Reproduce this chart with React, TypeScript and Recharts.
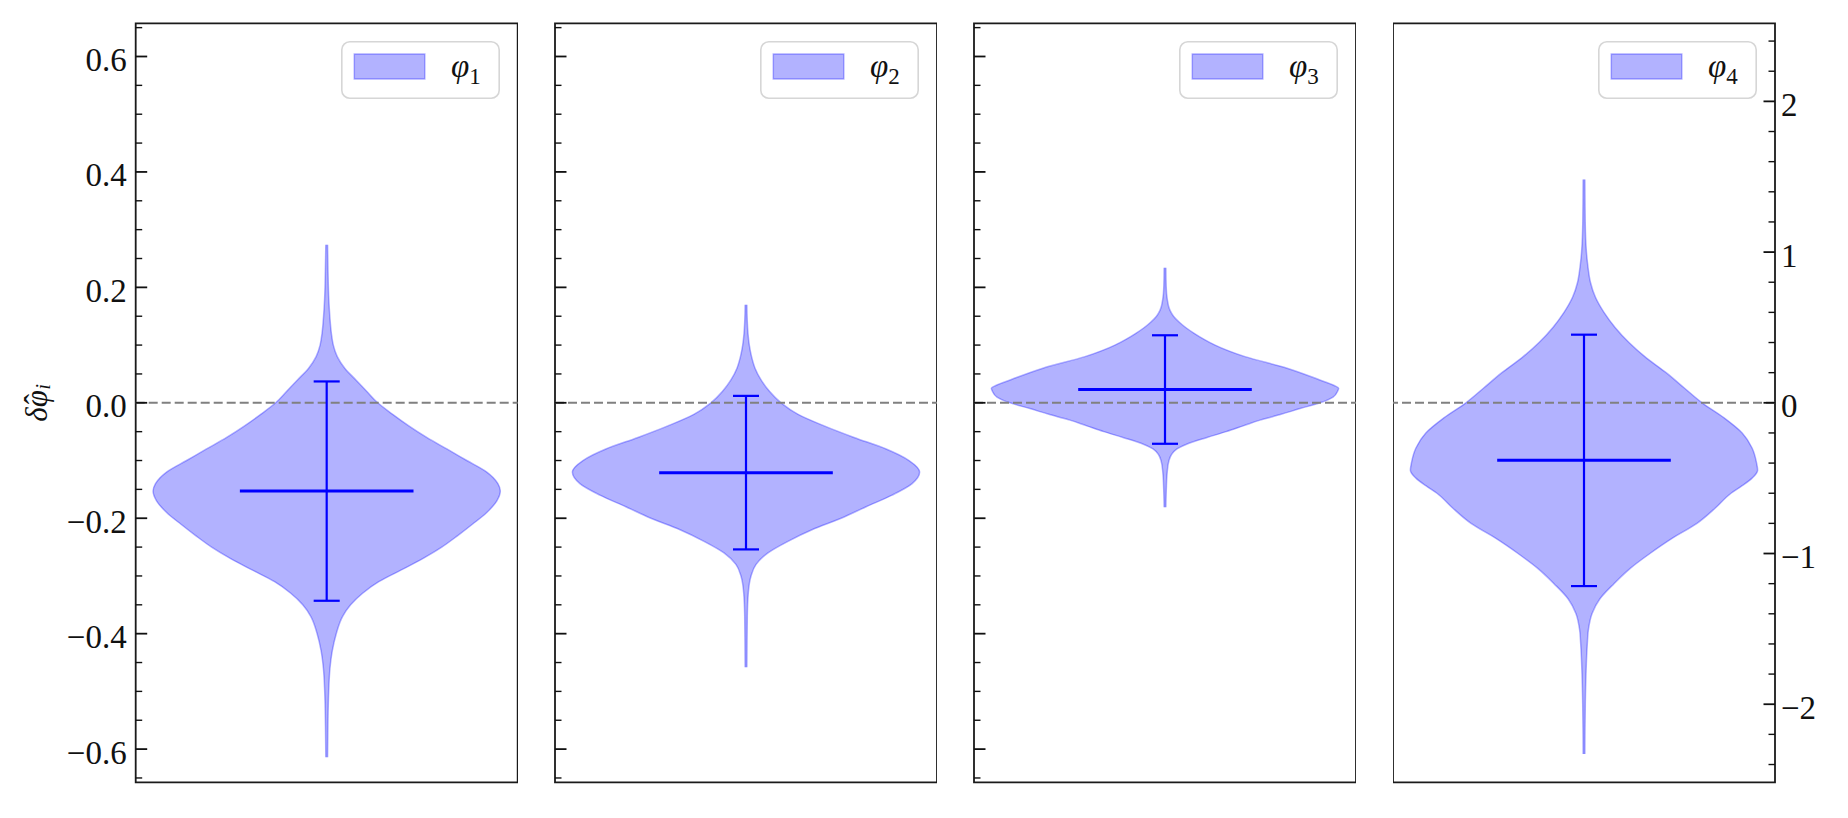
import React from 'react';
import { ComposedChart, Area, XAxis, YAxis, ReferenceLine, ReferenceArea, Legend } from 'recharts';

// ---------------- data ----------------
const seriesNames = ['φ1', 'φ2', 'φ3', 'φ4'];
const means = [-0.153, -0.121, 0.023, -0.382];
const stds = [0.19, 0.133, 0.094, 0.834];

// violin profiles: value along the y axis, and relative density (half-width, max = 1)
const v1Values = [0.274, 0.23, 0.18, 0.15, 0.12, 0.1, 0.08, 0.06, 0.04, 0.02, 0.0, -0.02, -0.04, -0.06, -0.08, -0.1, -0.12, -0.14, -0.153, -0.17, -0.19, -0.21, -0.23, -0.25, -0.27, -0.29, -0.31, -0.33, -0.35, -0.37, -0.4, -0.43, -0.46, -0.5, -0.56, -0.614];
const v1Density = [0.005, 0.0075, 0.012, 0.018, 0.027, 0.038, 0.061, 0.104, 0.167, 0.23, 0.294, 0.38, 0.473, 0.576, 0.692, 0.807, 0.922, 0.986, 1.0, 0.98, 0.922, 0.841, 0.755, 0.663, 0.553, 0.427, 0.3, 0.207, 0.138, 0.092, 0.055, 0.032, 0.019, 0.0115, 0.007, 0.005];

const v2Values = [0.17, 0.14, 0.12, 0.1, 0.08, 0.06, 0.04, 0.02, 0.0, -0.02, -0.04, -0.06, -0.08, -0.1, -0.12, -0.14, -0.16, -0.18, -0.2, -0.22, -0.24, -0.26, -0.28, -0.3, -0.33, -0.37, -0.458];
const v2Density = [0.005, 0.0075, 0.0115, 0.019, 0.032, 0.052, 0.086, 0.135, 0.202, 0.3, 0.45, 0.622, 0.807, 0.939, 1.0, 0.957, 0.841, 0.692, 0.548, 0.38, 0.242, 0.127, 0.058, 0.029, 0.013, 0.0075, 0.005];

const v3Values = [0.234, 0.2, 0.18, 0.16, 0.15, 0.14, 0.13, 0.12, 0.11, 0.1, 0.08, 0.06, 0.04, 0.03, 0.025, 0.02, 0.01, 0.0, -0.01, -0.02, -0.03, -0.04, -0.05, -0.06, -0.07, -0.08, -0.09, -0.1, -0.12, -0.15, -0.181];
const v3Density = [0.005, 0.007, 0.0127, 0.029, 0.049, 0.081, 0.121, 0.17, 0.225, 0.288, 0.461, 0.703, 0.888, 0.974, 1.0, 0.994, 0.968, 0.893, 0.778, 0.669, 0.548, 0.45, 0.352, 0.242, 0.138, 0.069, 0.037, 0.023, 0.0127, 0.0075, 0.005];

const v4Values = [1.482, 1.2, 1.0, 0.9, 0.8, 0.7, 0.6, 0.5, 0.4, 0.3, 0.2, 0.1, 0.0, -0.1, -0.2, -0.3, -0.4, -0.447, -0.5, -0.55, -0.6, -0.7, -0.8, -0.9, -1.0, -1.1, -1.2, -1.3, -1.4, -1.5, -1.6, -1.8, -2.0, -2.331];
const v4Density = [0.005, 0.007, 0.014, 0.023, 0.037, 0.066, 0.115, 0.179, 0.259, 0.357, 0.473, 0.576, 0.68, 0.807, 0.911, 0.968, 0.994, 1.0, 0.968, 0.911, 0.847, 0.755, 0.651, 0.507, 0.38, 0.265, 0.173, 0.092, 0.046, 0.026, 0.019, 0.0115, 0.0075, 0.005];

const leftMajorTicks = [-0.6, -0.4, -0.2, 0, 0.2, 0.4, 0.6];
const leftTickLabels = ['−0.6', '−0.4', '−0.2', '0.0', '0.2', '0.4', '0.6'];
const leftMinorTicks = [-0.65, -0.55, -0.5, -0.45, -0.35, -0.3, -0.25, -0.15, -0.1, -0.05, 0.05, 0.1, 0.15, 0.25, 0.3, 0.35, 0.45, 0.5, 0.55, 0.65];
const rightMajorTicks = [-2, -1, 0, 1, 2];
const rightTickLabels = ['−2', '−1', '0', '1', '2'];
const rightMinorTicks = [-2.4, -2.2, -1.8, -1.6, -1.4, -1.2, -0.8, -0.6, -0.4, -0.2, 0.2, 0.4, 0.6, 0.8, 1.2, 1.4, 1.6, 1.8, 2.2, 2.4];

const yTitleMain = 'δφ';
const yTitleHat = 'ˆ';
const yTitleSub = 'i';

// ---------------- config ----------------
const LEFT_DOMAIN: [number, number] = [-0.6575, 0.6575];
const RIGHT_DOMAIN: [number, number] = [-2.518, 2.518];
const X_DOMAIN: [number, number] = [-1.1, 1.1];
const MEAN_HALF = 0.5;
const CAP_HALF = 0.075;
const BLUE = '#0000ff';
const FONT = '"Liberation Serif", "Times New Roman", serif';
const PLOT_W = 382;
const PLOT_TOP = 23.3;
const PLOT_BOTTOM = 782.3;
const H = 818;

type Side = 'left' | 'right';

function makeTick(majors: number[], labels: string[], side: Side, showLabels: boolean) {
  return (props: any) => {
    const { x, y, payload } = props;
    const v = payload.value;
    const mi = majors.findIndex((m) => Math.abs(m - v) < 1e-9);
    const major = mi >= 0;
    const len = major ? 11.5 : 6.5;
    const dir = side === 'left' ? 1 : -1;
    return (
      <g>
        <line x1={x} y1={y} x2={x + dir * len} y2={y} stroke="#111" strokeWidth={major ? 1.8 : 1.4} />
        {major && showLabels ? (
          <text
            x={side === 'left' ? x - 9 : x + 6}
            y={y + 3.5}
            textAnchor={side === 'left' ? 'end' : 'start'}
            dominantBaseline="central"
            fontFamily={FONT}
            fontSize={33}
            fill="#111"
          >
            {labels[mi]}
          </text>
        ) : null}
      </g>
    );
  };
}

const AxisTitle = (props: any) => {
  const vb = props.viewBox || { x: 0, y: 0, width: 0, height: 0 };
  const cx = vb.x + 36;
  const cy = vb.y + vb.height / 2;
  return (
    <text
      x={cx}
      y={cy}
      transform={`rotate(-90, ${cx}, ${cy})`}
      textAnchor="middle"
      dominantBaseline="central"
      fontFamily={FONT}
      fontSize={31}
      fill="#111"
    >
      <tspan fontStyle="italic">{yTitleMain}</tspan>
      <tspan dx={-14} dy={-1}>{yTitleHat}</tspan>
      <tspan fontStyle="italic" fontSize={21} dx={4} dy={8}>{yTitleSub}</tspan>
    </text>
  );
};

const LegendBox = (props: any) => {
  const item = props.payload && props.payload[0];
  const name = item ? String(item.value) : '';
  return (
    <svg width={159} height={58} style={{ display: 'block', overflow: 'visible' }}>
      <rect x={0.8} y={0.8} width={157.4} height={56.4} rx={8} ry={8} fill="#ffffff" fillOpacity={0.8} stroke="#d6d6d6" strokeWidth={1.6} />
      <rect x={13.3} y={13} width={70.5} height={25} fill={BLUE} fillOpacity={0.3} stroke={BLUE} strokeOpacity={0.3} strokeWidth={1.5} />
      <text x={110} y={36} fontFamily={FONT} fontSize={33} fill="#111">
        <tspan fontStyle="italic">{name.slice(0, 1)}</tspan>
        <tspan fontSize={23} dy={7}>{name.slice(1)}</tspan>
      </text>
    </svg>
  );
};

type PanelSpec = {
  values: number[];
  density: number[];
  index: number;
  domain: [number, number];
  left: number;
  axisMode: 'leftLabels' | 'leftTicks' | 'right';
};

const panels: PanelSpec[] = [
  { values: v1Values, density: v1Density, index: 0, domain: LEFT_DOMAIN, left: 135.7, axisMode: 'leftLabels' },
  { values: v2Values, density: v2Density, index: 1, domain: LEFT_DOMAIN, left: 554.7, axisMode: 'leftTicks' },
  { values: v3Values, density: v3Density, index: 2, domain: LEFT_DOMAIN, left: 973.7, axisMode: 'leftTicks' },
  { values: v4Values, density: v4Density, index: 3, domain: RIGHT_DOMAIN, left: 1392.7, axisMode: 'right' },
];

function Panel({ spec }: { spec: PanelSpec }) {
  const rows = spec.values
    .map((v, i) => ({ v, band: [-spec.density[i], spec.density[i]] }))
    .sort((a, b) => a.v - b.v);
  const mean = means[spec.index];
  const std = stds[spec.index];
  const isRight = spec.axisMode === 'right';
  const axW = spec.axisMode === 'leftLabels' ? spec.left : isRight ? 73 : 20;
  const chartLeft = isRight ? spec.left : spec.left - axW;
  const width = PLOT_W + axW;
  const plotOffset = isRight ? 0 : axW;
  const majors = isRight ? rightMajorTicks : leftMajorTicks;
  const minors = isRight ? rightMinorTicks : leftMinorTicks;
  const labels = isRight ? rightTickLabels : leftTickLabels;
  const tickFn = makeTick(majors, labels, isRight ? 'right' : 'left', spec.axisMode !== 'leftTicks');

  return (
    <div style={{ position: 'absolute', left: chartLeft, top: 0, width, height: H }}>
      <ComposedChart
        width={width}
        height={H}
        data={rows}
        layout="vertical"
        margin={{ top: PLOT_TOP, bottom: H - PLOT_BOTTOM, left: 0, right: 0 }}
      >
        <XAxis type="number" domain={X_DOMAIN} hide allowDataOverflow />
        <YAxis
          type="number"
          dataKey="v"
          domain={spec.domain}
          allowDataOverflow
          reversed
          orientation={isRight ? 'right' : 'left'}
          width={axW}
          ticks={[...majors, ...minors].sort((a, b) => a - b)}
          interval={0}
          tick={tickFn}
          tickLine={false}
          axisLine={false}
          tickSize={0}
          tickMargin={0}
          label={spec.axisMode === 'leftLabels' ? <AxisTitle /> : undefined}
        />
        <Area
          dataKey="band"
          name={seriesNames[spec.index]}
          type="monotone"
          fill={BLUE}
          fillOpacity={0.3}
          stroke={BLUE}
          strokeOpacity={0.3}
          strokeWidth={1.5}
          isAnimationActive={false}
          dot={false}
          activeDot={false}
        />
        <ReferenceLine y={0} stroke="#808080" strokeWidth={2} strokeDasharray="9 4" />
        <ReferenceLine segment={[{ x: 0, y: mean - std }, { x: 0, y: mean + std }]} stroke={BLUE} strokeWidth={2.2} />
        <ReferenceLine segment={[{ x: -CAP_HALF, y: mean + std }, { x: CAP_HALF, y: mean + std }]} stroke={BLUE} strokeWidth={2.2} />
        <ReferenceLine segment={[{ x: -CAP_HALF, y: mean - std }, { x: CAP_HALF, y: mean - std }]} stroke={BLUE} strokeWidth={2.2} />
        <ReferenceLine segment={[{ x: -MEAN_HALF, y: mean }, { x: MEAN_HALF, y: mean }]} stroke={BLUE} strokeWidth={3} />
        <ReferenceArea
          x1={X_DOMAIN[0]}
          x2={X_DOMAIN[1]}
          y1={spec.domain[0]}
          y2={spec.domain[1]}
          fill="none"
          fillOpacity={0}
          stroke="#1a1a1a"
          strokeWidth={1.8}
          ifOverflow="visible"
        />
        <Legend
          layout="vertical"
          align="center"
          verticalAlign="middle"
          content={<LegendBox />}
          wrapperStyle={{ top: 41.3, left: plotOffset + 205.5, width: 159, height: 58, right: 'auto', bottom: 'auto' }}
        />
      </ComposedChart>
    </div>
  );
}

export default function App() {
  return (
    <div style={{ position: 'absolute', left: 0, top: 0, width: 1848, height: H, background: '#ffffff', overflow: 'hidden' }}>
      {panels.map((p) => (
        <Panel key={p.index} spec={p} />
      ))}
    </div>
  );
}
